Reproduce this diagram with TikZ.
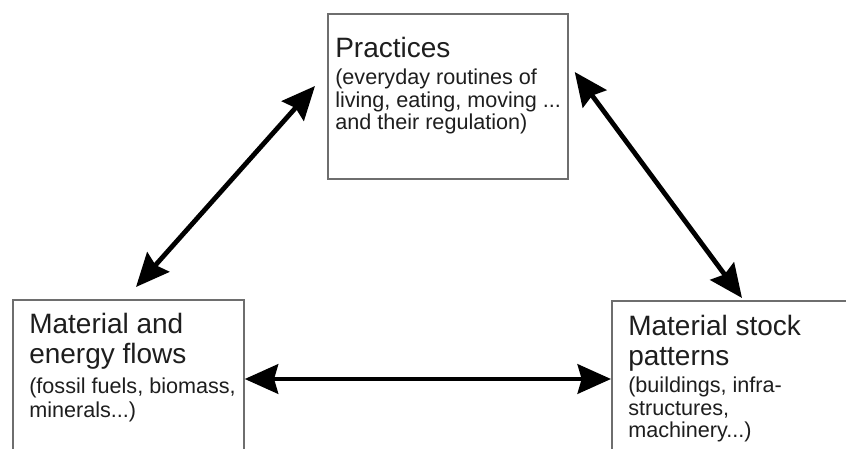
\documentclass[tikz,border=0pt]{standalone}
\usepackage{fontspec}
\setmainfont{Liberation Sans}
\usetikzlibrary{arrows.meta}
\definecolor{boxgray}{RGB}{110,110,110}
\definecolor{txt}{RGB}{30,30,30}
\begin{document}
\begin{tikzpicture}[x=0.75pt,y=-0.75pt,
  box/.style={draw=boxgray,line width=1.3pt,fill=white,inner sep=0pt,anchor=north west},
  ttl/.style={anchor=base west,inner sep=0pt,text=txt,font=\fontsize{21}{22}\selectfont},
  sub/.style={anchor=base west,inner sep=0pt,text=txt,font=\fontsize{16.2}{17}\selectfont},
  arr/.style={line width=3.6pt,{Stealth[length=25pt,width=22pt,inset=3pt]}-{Stealth[length=25pt,width=22pt,inset=3pt]}}]
\useasboundingbox[fill=white] (0,0) rectangle (846,449);
% boxes
\node[box,minimum width=180pt,minimum height=123.75pt] (prac) at (327,13) {};
\node[box,minimum width=173.25pt,minimum height=127.5pt] (flows) at (12,299) {};
\node[box,minimum width=187.5pt,minimum height=127.5pt] (stock) at (611,300) {};
% texts: practices
\node[ttl] (p1) at (335,58) {Practices};
\node[sub] (p2) at (335,85) {(everyday routines of};
\node[sub] (p3) at (335,108) {living, eating, moving ...};
\node[sub] (p4) at (335,130) {and their regulation)};
% flows
\node[ttl] (f1) at (29,333) {Material and};
\node[ttl] (f2) at (29,363) {energy flows};
\node[sub] (f3) at (29,393) {(fossil fuels, biomass,};
\node[sub] (f4) at (29,417) {minerals...)};
% stock
\node[ttl] (s1) at (628,335) {Material stock};
\node[ttl] (s2) at (628,365) {patterns};
\node[sub] (s3) at (628,392) {(buildings, infra-};
\node[sub] (s4) at (628,415) {structures,};
\node[sub] (s5) at (628,437) {machinery...)};
% arrows
\draw[arr] ([shift={(124,-12)}]flows.north west) -- ([shift={(-12,73)}]prac.north west);
\draw[arr] ([shift={(6,59)}]prac.north east) -- ([shift={(131,-2)}]stock.north west);
\draw[arr] (flows.east |- 0,379) -- (stock.west |- 0,379);
\end{tikzpicture}
\end{document}
